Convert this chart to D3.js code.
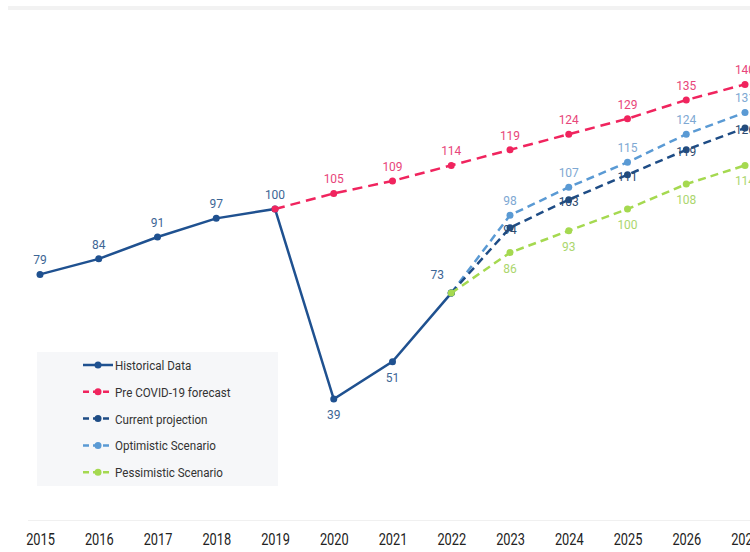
<!DOCTYPE html>
<html>
<head>
<meta charset="utf-8">
<script src="https://cdn.jsdelivr.net/npm/d3@7"></script>
<style>
  html, body { margin: 0; padding: 0; background: #fff; }
  svg { display: block; }
  .val { font-family: Roboto, "Open Sans", sans-serif; font-size: 12px; }
  .year { font-family: Roboto, sans-serif; font-size: 16px; fill: #222; }
  .leg { font-family: Roboto, sans-serif; font-size: 13.5px; fill: #333; }
</style>
</head>
<body>
<div id="chart"></div>
<script>
// data
var years = [2015, 2016, 2017, 2018, 2019, 2020, 2021, 2022, 2023, 2024, 2025, 2026, 2027];
var historicalYears = [2015, 2016, 2017, 2018, 2019, 2020, 2021, 2022];
var historical = [79, 84, 91, 97, 100, 39, 51, 73];
var preCovidYears = [2019, 2020, 2021, 2022, 2023, 2024, 2025, 2026, 2027];
var preCovid = [100, 105, 109, 114, 119, 124, 129, 135, 140];
var scenarioYears = [2022, 2023, 2024, 2025, 2026, 2027];
var current = [73, 94, 103, 111, 119, 126];
var optimistic = [73, 98, 107, 115, 124, 131];
var pessimistic = [73, 86, 93, 100, 108, 114];
var legendLabels = ["Historical Data", "Pre COVID-19 forecast", "Current projection", "Optimistic Scenario", "Pessimistic Scenario"];

var width = 750, height = 552;

var svg = d3.select("#chart").append("svg")
  .attr("width", width)
  .attr("height", height);

var x = d3.scaleLinear().domain([2015, 2027]).range([40, 745]);
var y = d3.scaleLinear().domain([0, 100]).range([520.5, 209]);

// card top edge
svg.append("rect")
  .attr("x", 8).attr("y", 6).attr("width", width).attr("height", 4)
  .attr("fill", "#f2f2f2");

// baseline
svg.append("line")
  .attr("x1", 28).attr("x2", width)
  .attr("y1", y(0)).attr("y2", y(0))
  .attr("stroke", "#f0f0f0").attr("stroke-width", 1);

// year axis (narrow type, squeezed horizontally)
var xAxis = d3.axisBottom(x).tickValues(years).tickFormat(d3.format("d")).tickSize(0);
var ax = svg.append("g").attr("transform", "translate(0,531)").call(xAxis);
ax.select(".domain").remove();
ax.selectAll("text")
  .attr("class", "year")
  .attr("fill", null).attr("font-size", null).attr("font-family", null)
  .attr("transform", "scale(0.8,1)");

var series = [
  { name: "Historical Data", xs: historicalYears, vs: historical, color: "#1f5190", label: "#3d6695", dash: null, pos: "above" },
  { name: "Pre COVID-19 forecast", xs: preCovidYears, vs: preCovid, color: "#f0245e", label: "#e8467a", dash: "10,6", pos: "above" },
  { name: "Optimistic Scenario", xs: scenarioYears, vs: optimistic, color: "#5a9ad4", label: "#7ea8d3", dash: "8,5", pos: "above" },
  { name: "Current projection", xs: scenarioYears, vs: current, color: "#1e4c85", label: "#2c4b70", dash: "8,5", pos: "on" },
  { name: "Pessimistic Scenario", xs: scenarioYears, vs: pessimistic, color: "#a5d950", label: "#abd66d", dash: "8,5", pos: "below" }
];

var line = d3.line()
  .x(function(d) { return x(d[0]); })
  .y(function(d) { return y(d[1]); });

series.forEach(function(s) {
  var pts = s.xs.map(function(yr, i) { return [yr, s.vs[i]]; });
  var g = svg.append("g");
  g.append("path")
    .datum(pts)
    .attr("d", line)
    .attr("fill", "none")
    .attr("stroke", s.color)
    .attr("stroke-width", 2.5)
    .attr("stroke-dasharray", s.dash);
  g.selectAll("circle")
    .data(pts)
    .enter().append("circle")
    .attr("cx", function(d) { return x(d[0]); })
    .attr("cy", function(d) { return y(d[1]); })
    .attr("r", 3.5)
    .attr("fill", s.color);
  s.pts = pts;
});

// value labels
series.forEach(function(s) {
  var pts = s.pts.filter(function(d, i) {
    // shared start points are labelled by the historical series
    if (s.xs === scenarioYears && i === 0) return false;
    if (s.xs === preCovidYears && i === 0) return false;
    return true;
  });
  svg.append("g").selectAll("text")
    .data(pts)
    .enter().append("text")
    .attr("class", "val")
    .attr("fill", s.label)
    .attr("text-anchor", "middle")
    .attr("x", function(d) {
      if (s.vs === historical && d[0] === 2022) return x(d[0]) - 14;
      return x(d[0]);
    })
    .attr("y", function(d) {
      var py = y(d[1]);
      if (s.vs === historical && (d[0] === 2020 || d[0] === 2021)) return py + 20;
      if (s.vs === historical && d[0] === 2022) return py - 14;
      if (s.pos === "above") return py - 10;
      if (s.pos === "on") return py + 6;
      return py + 20;
    })
    .text(function(d) { return d[1]; });
});

// legend
var legend = svg.append("g").attr("transform", "translate(37,352)");
legend.append("rect")
  .attr("width", 241).attr("height", 134)
  .attr("fill", "#f6f7f9");
var legendOrder = [series[0], series[1], series[3], series[2], series[4]];
var item = legend.selectAll("g.item")
  .data(legendOrder)
  .enter().append("g")
  .attr("class", "item")
  .attr("transform", function(d, i) { return "translate(0," + (13 + i * 26.8) + ")"; });
item.append("line")
  .attr("x1", 46).attr("x2", 76)
  .attr("stroke", function(d) { return d.color; })
  .attr("stroke-width", 2.5)
  .attr("stroke-dasharray", function(d) { return d.dash ? "6,4" : null; });
item.append("circle")
  .attr("cx", 61).attr("r", 3.5)
  .attr("fill", function(d) { return d.color; });
item.append("g")
  .attr("transform", "translate(78,0) scale(0.86,1)")
  .append("text")
  .attr("class", "leg")
  .attr("y", 5)
  .text(function(d, i) { return legendLabels[i]; });
</script>
</body>
</html>
